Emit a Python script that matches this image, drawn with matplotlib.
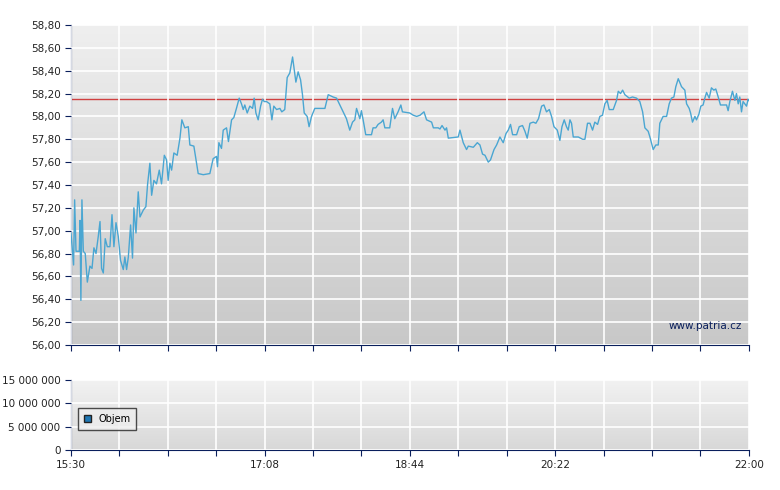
import numpy as np
import matplotlib.pyplot as plt

# minutes since 15:30 and price
t = [0, 1.5, 2.1, 2.9, 4.8, 5.2, 5.7, 6.3, 7.1, 8.2, 9.4, 10.9, 12.1, 13.2, 14.4, 15.7, 16.7, 17.6, 18.6, 19.7,
     20.9, 22.4, 23.6, 24.7, 25.9, 27.2, 28.5, 30.1, 31.0, 32.0, 33.0, 34.3, 35.4, 36.2, 37.4, 38.7, 39.7, 41.6,
     43.1, 44.1, 45.4, 46.4, 47.7, 49.2, 50.8, 52.1, 53.7, 55.0, 55.9, 56.9, 57.9, 59.2, 61.1, 62.7, 63.8, 65.5,
     67.5, 68.4, 70.7, 73.2, 76.1, 79.9, 81.8, 83.7, 84.3, 85.1, 86.6, 87.6, 89.5, 90.6, 92.4, 93.7, 95.2, 96.8,
     98.1, 99.1, 100.0, 101.4, 102.9, 104.5, 105.4, 106.4, 107.7, 109.1, 110.2, 111.2, 112.5, 114.4, 115.6, 116.7,
     118.3, 120.2, 121.3, 123.0, 124.4, 125.9, 127.5, 129.4, 130.7, 132.1, 133.2, 134.2, 135.9, 137.0, 138.4,
     140.3, 146.1, 148.0, 150.8, 152.8, 154.7, 156.6, 158.5, 160.4, 162.0, 163.3, 164.3, 166.2, 167.1, 168.1,
     169.6, 172.9, 173.8, 175.4, 176.7, 178.6, 179.6, 180.6, 183.4, 185.0, 186.3, 188.2, 189.8, 190.7, 194.9,
     197.0, 198.9, 200.8, 203.1, 204.6, 207.5, 208.5, 211.3, 212.3, 213.5, 215.2, 216.1, 217.1, 222.8, 223.8,
     225.7, 227.6, 228.6, 231.5, 233.8, 235.3, 236.8, 238.2, 240.1, 241.4, 243.4, 244.9, 246.8, 248.7, 250.3,
     251.6, 252.9, 254.1, 256.4, 257.9, 259.8, 261.2, 262.5, 264.1, 266.0, 267.5, 269.0, 270.8, 272.1, 273.6,
     275.2, 276.5, 277.9, 279.8, 281.3, 282.5, 283.8, 285.1, 286.1, 287.1, 288.0, 289.0, 290.0, 291.9, 294.4,
     295.7, 297.2, 298.6, 300.1, 301.4, 303.0, 304.3, 305.8, 307.2, 308.5, 309.7, 312.0, 313.9, 314.9, 316.2,
     317.4, 318.7, 321.2, 323.1, 325.4, 327.3, 328.9, 330.2, 332.1, 333.1, 335.0, 336.5, 337.9, 338.8, 340.7,
     342.7, 344.2, 345.5, 346.9, 348.0, 349.4, 351.3, 353.2, 354.2, 355.7, 356.5, 357.6, 359.0, 359.9, 361.3,
     362.4, 363.7, 364.7, 365.7, 367.2, 368.5, 369.9, 371.0, 372.4, 373.7, 375.2, 377.2, 378.1, 379.1, 380.6,
     382.0, 382.9, 383.9, 384.8, 385.8, 386.7, 388.7, 389.6, 390]
price = [56.98, 56.70, 57.27, 56.82, 56.82, 57.09, 56.39, 57.27, 56.82, 56.80, 56.55, 56.69, 56.67, 56.85, 56.80,
         56.95, 57.08, 56.67, 56.63, 56.93, 56.86, 56.86, 57.14, 56.86, 57.07, 56.95, 56.74, 56.66, 56.77, 56.66,
         56.77, 57.05, 56.76, 57.20, 56.98, 57.34, 57.12, 57.18, 57.21, 57.41, 57.59, 57.31, 57.44, 57.41, 57.53,
         57.41, 57.66, 57.62, 57.44, 57.59, 57.53, 57.68, 57.66, 57.81, 57.97, 57.90, 57.91, 57.75, 57.74, 57.50,
         57.49, 57.50, 57.63, 57.65, 57.56, 57.77, 57.72, 57.88, 57.90, 57.78, 57.97, 57.99, 58.07, 58.16, 58.11,
         58.06, 58.10, 58.03, 58.09, 58.07, 58.16, 58.03, 57.97, 58.09, 58.15, 58.13, 58.13, 58.11, 57.97, 58.09,
         58.06, 58.07, 58.04, 58.06, 58.34, 58.38, 58.52, 58.30, 58.39, 58.32, 58.19, 58.03, 58.00, 57.91, 58.00,
         58.07, 58.07, 58.19, 58.17, 58.16, 58.10, 58.04, 57.98, 57.88, 57.95, 57.97, 58.07, 57.98, 58.05, 57.97,
         57.84, 57.84, 57.90, 57.90, 57.93, 57.95, 57.97, 57.90, 57.90, 58.07, 57.98, 58.04, 58.10, 58.04, 58.03,
         58.01, 58.00, 58.01, 58.04, 57.97, 57.95, 57.90, 57.90, 57.89, 57.92, 57.88, 57.90, 57.81, 57.82, 57.88,
         57.77, 57.71, 57.74, 57.73, 57.77, 57.75, 57.67, 57.66, 57.60, 57.62, 57.71, 57.75, 57.82, 57.77, 57.85,
         57.88, 57.93, 57.84, 57.84, 57.91, 57.92, 57.87, 57.81, 57.94, 57.95, 57.94, 57.98, 58.09, 58.10, 58.04,
         58.06, 58.00, 57.91, 57.88, 57.79, 57.91, 57.97, 57.91, 57.88, 57.97, 57.94, 57.82, 57.82, 57.82, 57.80,
         57.80, 57.94, 57.94, 57.88, 57.95, 57.93, 58.00, 58.01, 58.11, 58.14, 58.06, 58.06, 58.14, 58.22, 58.20,
         58.23, 58.19, 58.16, 58.17, 58.16, 58.13, 58.04, 57.90, 57.87, 57.82, 57.71, 57.75, 57.75, 57.94, 58.00,
         58.00, 58.11, 58.16, 58.17, 58.26, 58.33, 58.26, 58.23, 58.11, 58.07, 58.03, 57.95, 58.00, 57.97, 58.02,
         58.09, 58.10, 58.16, 58.21, 58.16, 58.25, 58.23, 58.24, 58.17, 58.10, 58.10, 58.10, 58.05, 58.13, 58.22,
         58.14, 58.20, 58.11, 58.17, 58.04, 58.13, 58.09, 58.15, 58.14]
prev_close = 58.15
tick_labels = {0: "15:30", 4: "17:08", 7: "18:44", 10: "20:22", 14: "22:00"}
vol_ticks = [0, 5e6, 10e6, 15e6]
vol_labels = ["0", "5 000 000", "10 000 000", "15 000 000"]

step = 390 / 14
navy = "#0a1f5c"

fig = plt.figure(figsize=(7.8, 4.9), dpi=100)
ax = fig.add_axes([0.091, 0.296, 0.869, 0.653])
axv = fig.add_axes([0.091, 0.0816, 0.869, 0.143])


def style(a, top, bottom, y0, y1):
    grad = np.linspace(0, 1, 256).reshape(-1, 1)
    a.imshow(grad, extent=[0, 390, y0, y1], aspect="auto", origin="upper",
             cmap=plt.matplotlib.colors.LinearSegmentedColormap.from_list("g", [top, bottom]), zorder=0)
    a.set_xlim(0, 390)
    a.set_ylim(y0, y1)
    a.set_xticks([i * step for i in range(15)])
    a.grid(True, color="white", linewidth=1.2, zorder=1)
    a.set_axisbelow(False)
    for s in ["top", "right"]:
        a.spines[s].set_visible(False)
    for s in ["left", "bottom"]:
        a.spines[s].set_color(navy)
    a.tick_params(colors=navy, labelcolor="#222222", labelsize=7.5, length=4, direction="out")


style(ax, "#efefef", "#c8c8c8", 56.0, 58.8)
ax.set_yticks(np.arange(56.0, 58.81, 0.2))
ax.set_yticklabels([f"{v:.2f}".replace(".", ",") for v in np.arange(56.0, 58.81, 0.2)])
ax.set_xticklabels([])
ax.plot(t, price, color="#4aa6d2", linewidth=1.0, zorder=3)
ax.axhline(prev_close, color="#d04040", linewidth=1.0, zorder=2)
ax.text(386, 56.12, "www.patria.cz", ha="right", va="bottom", fontsize=7.5, color="#0a1f5c", zorder=4)

style(axv, "#f2f2f2", "#d8d8d8", 0, 15e6)
axv.set_yticks(vol_ticks)
axv.set_yticklabels(vol_labels)
axv.set_xticklabels([tick_labels.get(i, "") for i in range(15)])
axv.bar([], [], color="#4aa6d2", label="Objem")
leg = axv.legend(loc="lower left", bbox_to_anchor=(0.003, 0.22), fontsize=7, frameon=True,
                 fancybox=False, handlelength=0.7, handleheight=0.7, borderpad=0.6)
leg.get_frame().set_edgecolor("#222222")
leg.get_frame().set_facecolor("#eeeeee")
leg.get_patches()[0].set_edgecolor("#222222") if leg.get_patches() else None

fig.savefig("out.png")
